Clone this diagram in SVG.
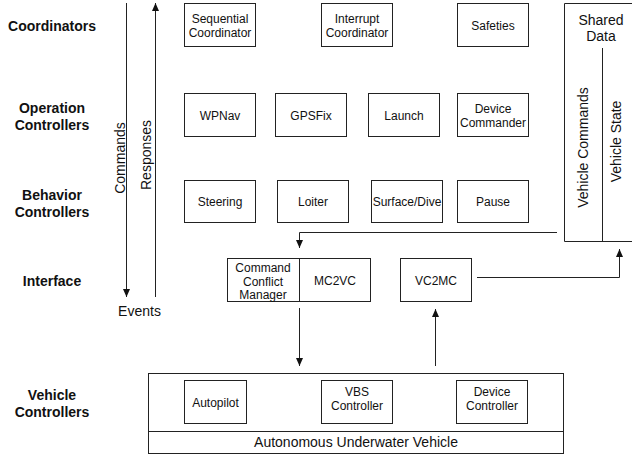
<svg xmlns="http://www.w3.org/2000/svg" width="632" height="458" viewBox="0 0 632 458">
<style>
.box{fill:#fff;stroke:#222;stroke-width:1}
.ln{fill:none;stroke:#222;stroke-width:1}
.t{font-family:"Liberation Sans",Arial,sans-serif;font-size:12px;fill:#111;text-anchor:middle}
.m{font-family:"Liberation Sans",Arial,sans-serif;font-size:14px;fill:#111;text-anchor:middle}
.h{font-family:"Liberation Sans",Arial,sans-serif;font-size:14px;font-weight:bold;fill:#111;text-anchor:middle}
</style>
<defs>
<marker id="ah" markerUnits="userSpaceOnUse" markerWidth="8" markerHeight="7" refX="8" refY="3.5" orient="auto">
<path d="M0,0 L8,3.5 L0,7 z" fill="#111"/>
</marker>
</defs>
<rect width="632" height="458" fill="#fff"/>

<g id="row-labels">
<text class="h" x="52" y="31">Coordinators</text>
<text class="h" x="52" y="113">Operation</text>
<text class="h" x="52" y="130">Controllers</text>
<text class="h" x="52" y="200">Behavior</text>
<text class="h" x="52" y="217">Controllers</text>
<text class="h" x="52" y="286">Interface</text>
<text class="h" x="52" y="400">Vehicle</text>
<text class="h" x="52" y="417">Controllers</text>
</g>

<g id="connectors">
<line class="ln" x1="126.5" y1="3" x2="126.5" y2="297" marker-end="url(#ah)"/>
<line class="ln" x1="155.5" y1="297" x2="155.5" y2="3" marker-end="url(#ah)"/>
<polyline class="ln" points="557,232.5 299.5,232.5 299.5,248" marker-end="url(#ah)"/>
<polyline class="ln" points="477,277.5 619.5,277.5 619.5,249" marker-end="url(#ah)"/>
<line class="ln" x1="299.5" y1="308" x2="299.5" y2="366" marker-end="url(#ah)"/>
<line class="ln" x1="435.5" y1="366" x2="435.5" y2="309" marker-end="url(#ah)"/>
</g>

<g id="axis-labels">
<text class="m" transform="translate(124.5,158) rotate(-90)">Commands</text>
<text class="m" transform="translate(151,155) rotate(-90)">Responses</text>
<text class="m" x="139.5" y="316">Events</text>
</g>

<g id="sequential-coordinator">
<rect class="box" x="184.5" y="3.5" width="71" height="43"/>
<text class="t" x="220" y="22.5">Sequential</text>
<text class="t" x="220" y="36.5">Coordinator</text>
</g>
<g id="interrupt-coordinator">
<rect class="box" x="321.5" y="3.5" width="71" height="43"/>
<text class="t" x="357" y="22.5">Interrupt</text>
<text class="t" x="357" y="36.5">Coordinator</text>
</g>
<g id="safeties">
<rect class="box" x="457.5" y="3.5" width="71" height="43"/>
<text class="t" x="493" y="29.5">Safeties</text>
</g>

<g id="wpnav">
<rect class="box" x="184.5" y="93.5" width="71" height="43"/>
<text class="t" x="220" y="119.5">WPNav</text>
</g>
<g id="gpsfix">
<rect class="box" x="275.5" y="93.5" width="71" height="43"/>
<text class="t" x="311" y="119.5">GPSFix</text>
</g>
<g id="launch">
<rect class="box" x="368.5" y="93.5" width="71" height="43"/>
<text class="t" x="404" y="119.5">Launch</text>
</g>
<g id="device-commander">
<rect class="box" x="457.5" y="93.5" width="71" height="43"/>
<text class="t" x="493" y="112.5">Device</text>
<text class="t" x="493" y="126.5">Commander</text>
</g>

<g id="steering">
<rect class="box" x="184.5" y="180.5" width="71" height="42"/>
<text class="t" x="220" y="206">Steering</text>
</g>
<g id="loiter">
<rect class="box" x="277.5" y="180.5" width="71" height="42"/>
<text class="t" x="313" y="206">Loiter</text>
</g>
<g id="surface-dive">
<rect class="box" x="371.5" y="180.5" width="71" height="42"/>
<text class="t" x="407" y="206">Surface/Dive</text>
</g>
<g id="pause">
<rect class="box" x="457.5" y="180.5" width="71" height="42"/>
<text class="t" x="493" y="206">Pause</text>
</g>

<g id="shared-data">
<path class="ln" d="M640,3.5 H564.5 V241.5 H640"/>
<line class="ln" x1="602.5" y1="48" x2="602.5" y2="241.5"/>
<text class="m" x="601" y="25">Shared</text>
<text class="m" x="601" y="41">Data</text>
<text class="m" transform="translate(587.5,147.5) rotate(-90)">Vehicle Commands</text>
<text class="m" transform="translate(621,141.5) rotate(-90)">Vehicle State</text>
</g>

<g id="command-conflict-manager">
<rect class="box" x="227.5" y="258.5" width="72" height="43"/>
<text class="t" x="263" y="272">Command</text>
<text class="t" x="263" y="285.5">Conflict</text>
<text class="t" x="263" y="299">Manager</text>
</g>
<g id="mc2vc">
<rect class="box" x="299.5" y="258.5" width="71" height="43"/>
<text class="t" x="335" y="284.5">MC2VC</text>
</g>
<g id="vc2mc">
<rect class="box" x="400.5" y="258.5" width="71" height="43"/>
<text class="t" x="436" y="284.5">VC2MC</text>
</g>

<g id="autonomous-underwater-vehicle">
<rect class="box" x="148.5" y="373.5" width="415" height="80"/>
<line class="ln" x1="148.5" y1="431.5" x2="563.5" y2="431.5"/>
<text class="m" x="356" y="447">Autonomous Underwater Vehicle</text>
</g>
<g id="autopilot">
<rect class="box" x="184.5" y="380.5" width="62" height="43"/>
<text class="t" x="215.5" y="406.5">Autopilot</text>
</g>
<g id="vbs-controller">
<rect class="box" x="321.5" y="380.5" width="71" height="43"/>
<text class="t" x="357" y="396">VBS</text>
<text class="t" x="357" y="410">Controller</text>
</g>
<g id="device-controller">
<rect class="box" x="456.5" y="380.5" width="71" height="43"/>
<text class="t" x="492" y="396">Device</text>
<text class="t" x="492" y="410">Controller</text>
</g>
</svg>
